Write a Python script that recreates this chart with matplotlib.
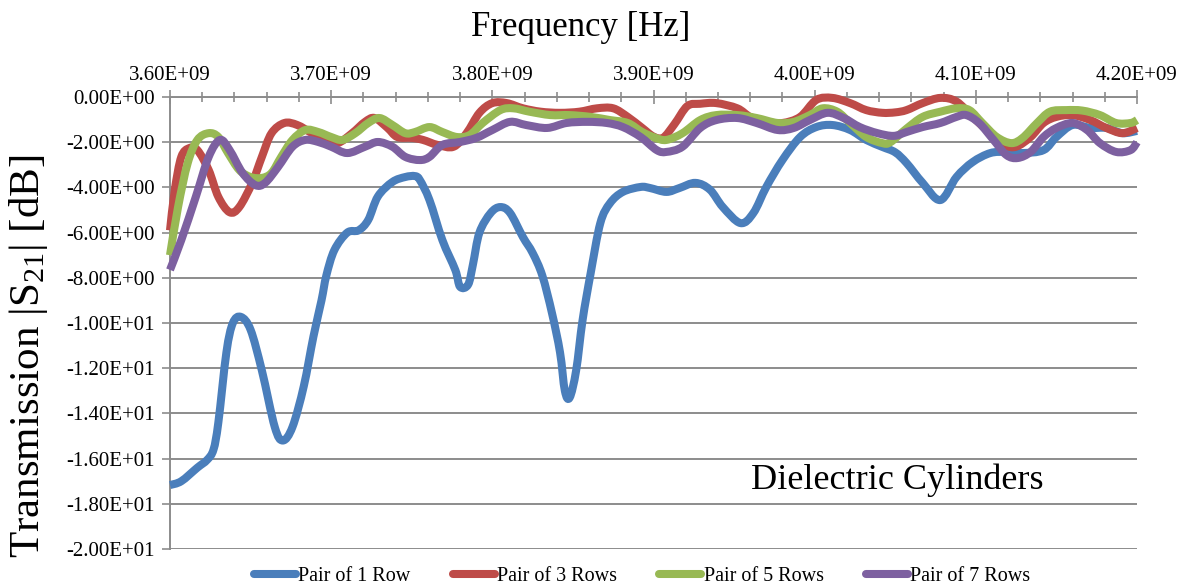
import numpy as np
import matplotlib
matplotlib.use("Agg")
import matplotlib.pyplot as plt
from matplotlib.ticker import FuncFormatter, MultipleLocator
from matplotlib.path import Path
from matplotlib.patches import PathPatch
from matplotlib.lines import Line2D

# frequency in GHz, transmission in dB
f_1 = [3.600, 3.607, 3.617, 3.623, 3.627, 3.630, 3.635, 3.639, 3.644, 3.650,
       3.657, 3.665, 3.670, 3.676, 3.683, 3.689, 3.694, 3.697, 3.702, 3.710,
       3.717, 3.723, 3.729, 3.738, 3.746, 3.752, 3.755, 3.761, 3.769, 3.777,
       3.780, 3.785, 3.788, 3.792, 3.799, 3.805, 3.811, 3.819, 3.825, 3.831,
       3.837, 3.842, 3.845, 3.848, 3.852, 3.856, 3.861, 3.867, 3.873, 3.881,
       3.892, 3.898, 3.908, 3.916, 3.926, 3.935, 3.943, 3.954, 3.962, 3.970,
       3.980, 3.991, 4.001, 4.011, 4.022, 4.032, 4.042, 4.050, 4.057, 4.067,
       4.078, 4.088, 4.098, 4.109, 4.119, 4.129, 4.142, 4.150, 4.160, 4.171,
       4.181, 4.191, 4.200]
s_1 = [-17.17, -17.0, -16.4, -16.06, -15.6, -14.4, -11.3, -10.0, -9.73, -10.3,
       -12.1, -14.6, -15.2, -14.6, -12.8, -10.6, -9.0, -7.9, -6.77, -6.0,
       -5.9, -5.44, -4.4, -3.76, -3.54, -3.5, -3.67, -4.56, -6.33, -7.65,
       -8.4, -8.3, -7.4, -6.0, -5.13, -4.87, -5.13, -6.2, -6.9, -7.9,
       -9.56, -11.3, -13.0, -13.3, -12.1, -9.87, -7.8, -5.58, -4.7, -4.2,
       -3.98, -4.03, -4.2, -4.03, -3.8, -4.1, -4.87, -5.58, -5.13, -3.98,
       -2.79, -1.77, -1.33, -1.24, -1.46, -1.9, -2.21, -2.45, -2.92, -3.8,
       -4.56, -3.54, -2.88, -2.48, -2.43, -2.48, -2.35, -1.77, -1.24, -1.37,
       -1.37, -1.6, -1.5]

f_3 = [3.600, 3.603, 3.607, 3.612, 3.617, 3.624, 3.630, 3.637, 3.643, 3.651,
       3.657, 3.663, 3.671, 3.679, 3.688, 3.696, 3.704, 3.713, 3.721, 3.727,
       3.735, 3.741, 3.750, 3.757, 3.766, 3.776, 3.784, 3.792, 3.800, 3.809,
       3.819, 3.830, 3.842, 3.854, 3.865, 3.875, 3.884, 3.893, 3.900, 3.906,
       3.913, 3.921, 3.929, 3.939, 3.952, 3.960, 3.970, 3.980, 3.991, 4.001,
       4.011, 4.022, 4.032, 4.042, 4.050, 4.057, 4.067, 4.078, 4.088, 4.098,
       4.109, 4.118, 4.125, 4.134, 4.142, 4.150, 4.160, 4.171, 4.181, 4.191,
       4.200]
s_3 = [-5.9, -4.1, -2.65, -2.26, -2.35, -3.23, -4.42, -5.1, -4.87, -3.8,
       -2.65, -1.6, -1.15, -1.24, -1.6, -1.9, -2.04, -1.6, -1.1, -0.93,
       -1.37, -1.77, -1.81, -1.9, -2.12, -2.2, -1.6, -0.7, -0.27, -0.27,
       -0.5, -0.65, -0.7, -0.65, -0.5, -0.5, -0.88, -1.37, -1.75, -1.8,
       -1.2, -0.4, -0.3, -0.27, -0.5, -0.88, -1.1, -1.15, -0.88, -0.13,
       -0.04, -0.27, -0.58, -0.7, -0.68, -0.58, -0.27, -0.04, -0.2, -0.88,
       -1.6, -2.12, -2.2, -1.77, -1.15, -0.88, -0.8, -1.02, -1.37, -1.6,
       -1.37]

f_5 = [3.600, 3.605, 3.611, 3.617, 3.624, 3.630, 3.636, 3.643, 3.650, 3.657,
       3.663, 3.669, 3.676, 3.684, 3.692, 3.700, 3.707, 3.715, 3.723, 3.730,
       3.738, 3.746, 3.752, 3.761, 3.769, 3.778, 3.786, 3.794, 3.805, 3.813,
       3.823, 3.836, 3.848, 3.861, 3.873, 3.884, 3.893, 3.901, 3.908, 3.918,
       3.929, 3.939, 3.952, 3.964, 3.977, 3.987, 3.997, 4.005, 4.014, 4.022,
       4.032, 4.042, 4.047, 4.057, 4.067, 4.078, 4.088, 4.096, 4.104, 4.113,
       4.122, 4.129, 4.138, 4.146, 4.156, 4.166, 4.177, 4.187, 4.196, 4.200]
s_5 = [-7.0, -4.87, -2.92, -1.9, -1.6, -1.77, -2.48, -3.23, -3.54, -3.58,
       -3.36, -2.65, -1.9, -1.46, -1.55, -1.77, -1.9, -1.6, -1.15, -0.93,
       -1.24, -1.6, -1.55, -1.33, -1.55, -1.77, -1.68, -1.15, -0.58, -0.5,
       -0.65, -0.8, -0.8, -0.88, -1.02, -1.15, -1.55, -1.8, -1.9, -1.6,
       -1.02, -0.8, -0.8, -0.93, -1.15, -1.1, -0.8, -0.5, -0.65, -1.15,
       -1.77, -2.04, -2.0, -1.4, -0.88, -0.65, -0.5, -0.58, -1.15, -1.77,
       -2.04, -1.81, -1.15, -0.65, -0.58, -0.6, -0.8, -1.15, -1.15, -1.02]

f_7 = [3.600, 3.607, 3.616, 3.624, 3.631, 3.637, 3.645, 3.653, 3.659, 3.667,
       3.676, 3.684, 3.692, 3.700, 3.710, 3.721, 3.729, 3.738, 3.746, 3.755,
       3.761, 3.769, 3.780, 3.790, 3.800, 3.811, 3.821, 3.834, 3.846, 3.859,
       3.871, 3.881, 3.892, 3.902, 3.908, 3.918, 3.929, 3.939, 3.952, 3.964,
       3.977, 3.987, 3.997, 4.008, 4.018, 4.028, 4.039, 4.049, 4.057, 4.067,
       4.078, 4.088, 4.094, 4.102, 4.111, 4.119, 4.126, 4.134, 4.142, 4.150,
       4.160, 4.169, 4.177, 4.187, 4.196, 4.200]
s_7 = [-7.65, -6.33, -4.42, -2.65, -1.9, -2.35, -3.36, -3.9, -3.8, -3.1,
       -2.2, -1.9, -1.99, -2.2, -2.48, -2.2, -1.99, -2.2, -2.65, -2.79,
       -2.65, -2.12, -1.99, -1.81, -1.46, -1.1, -1.24, -1.37, -1.15, -1.1,
       -1.15, -1.33, -1.77, -2.35, -2.43, -2.2, -1.37, -1.02, -0.93, -1.15,
       -1.46, -1.37, -1.02, -0.7, -0.93, -1.33, -1.6, -1.72, -1.55, -1.33,
       -1.15, -0.88, -0.8, -1.15, -1.9, -2.57, -2.7, -2.43, -1.77, -1.37,
       -1.15, -1.46, -2.04, -2.43, -2.35, -2.0]

labels = ["Pair of 1 Row", "Pair of 3 Rows", "Pair of 5 Rows", "Pair of 7 Rows"]
colors = ["#4a7ebb", "#be4b48", "#98b954", "#7d60a0"]


def smooth_path(x, y):
    # bezier path through the points (like Excel's "smoothed line")
    p = np.column_stack([x, y])
    verts = [p[0]]
    codes = [Path.MOVETO]
    n = len(p)
    for i in range(n - 1):
        p0 = p[i - 1] if i > 0 else p[i]
        p3 = p[i + 2] if i + 2 < n else p[i + 1]
        c1 = p[i] + (p[i + 1] - p0) / 6
        c2 = p[i + 1] - (p3 - p[i]) / 6
        verts += [c1, c2, p[i + 1]]
        codes += [Path.CURVE4] * 3
    return Path(verts, codes)


plt.rcParams['font.family'] = ['Liberation Serif', 'DejaVu Serif']
plt.rcParams['mathtext.default'] = 'regular'

fig = plt.figure(figsize=(11.83, 5.88), dpi=100)
ax = fig.add_axes([170/1183, 1-549/588, (1137-170)/1183, (549-97)/588])

series = [(f_1, s_1), (f_3, s_3), (f_5, s_5), (f_7, s_7)]
handles = []
for (f, s), lab, c in zip(series, labels, colors):
    patch = PathPatch(smooth_path(np.array(f) * 1e9, np.array(s)), fill=False,
                      edgecolor=c, lw=5.8, joinstyle='round', capstyle='butt',
                      clip_on=False, zorder=3)
    ax.add_patch(patch)
    handles.append(Line2D([], [], color=c, lw=5.8, solid_capstyle='round', label=lab))

ax.set_xlim(3.6e9, 4.2e9)
ax.set_ylim(-20, 0)
ax.xaxis.tick_top()
ax.xaxis.set_major_locator(MultipleLocator(1e8))
ax.xaxis.set_minor_locator(MultipleLocator(2e7))
ax.set_yticks(np.arange(-20, 1, 2))
ax.xaxis.set_major_formatter(FuncFormatter(lambda v, p: f"{v:.2E}"))
ax.yaxis.set_major_formatter(FuncFormatter(lambda v, p: f"{v + 0.0:.2E}"))

gc = '#8c8c8c'
ax.yaxis.grid(True, color=gc, lw=1.4, zorder=1)
for side in ['right', 'bottom']:
    ax.spines[side].set_visible(False)
for side in ['left', 'top']:
    ax.spines[side].set_color(gc)
    ax.spines[side].set_linewidth(1.4)
ax.tick_params(axis='x', which='major', direction='inout', length=10, width=1.2,
               color=gc, labelsize=15, pad=4)
ax.tick_params(axis='x', which='minor', direction='inout', length=7, width=1.2, color=gc)
ax.tick_params(axis='y', direction='out', length=6, width=1.2, color=gc,
               labelsize=15, pad=5)

fig.text(581/1183, 1-27/588, "Frequency [Hz]", fontsize=25, ha='center', va='center')
fig.text(29/1183, 1-356/588, "Transmission |S$_{21}$| [dB]", fontsize=31,
         rotation=90, ha='center', va='center')
fig.text(897/1183, 1-480/588, "Dielectric Cylinders", fontsize=26, ha='center', va='center')

fig.legend(handles=handles, loc='center', bbox_to_anchor=(642/1183, 1-576/588), ncol=4,
           frameon=False, handlelength=2.1, handletextpad=0.1, columnspacing=2.1,
           fontsize=14.5)

fig.savefig("out.png", dpi=100)
